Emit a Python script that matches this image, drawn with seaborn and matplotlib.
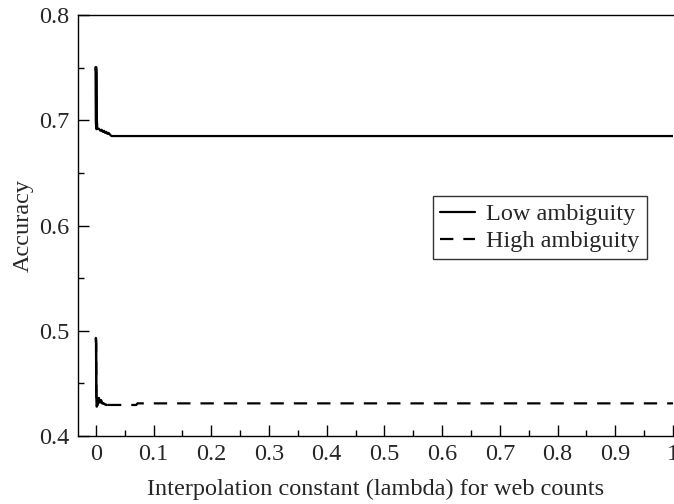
import matplotlib
matplotlib.use("Agg")
import matplotlib.pyplot as plt
import seaborn as sns
import pandas as pd

# Accuracy vs. interpolation constant
low_lambda = [0.0, 0.0004, 0.0008, 0.0015, 0.005, 0.008, 0.010, 0.012, 0.014,
              0.016, 0.018, 0.020, 0.022, 0.025, 0.027, 0.1, 0.5, 1.0]
low_acc = [0.750, 0.745, 0.700, 0.692, 0.692, 0.690, 0.691, 0.689, 0.690,
           0.688, 0.689, 0.687, 0.688, 0.686, 0.685, 0.685, 0.685, 0.685]

high_lambda = [0.0, 0.0004, 0.0008, 0.0015, 0.003, 0.005, 0.007, 0.009, 0.011,
               0.013, 0.016, 0.019, 0.070, 0.072, 0.5, 1.0]
high_acc = [0.493, 0.488, 0.440, 0.428, 0.430, 0.436, 0.432, 0.434, 0.431,
            0.431, 0.430, 0.4295, 0.4295, 0.431, 0.431, 0.431]

x_ticks = [0, 0.1, 0.2, 0.3, 0.4, 0.5, 0.6, 0.7, 0.8, 0.9, 1.0]
x_tick_labels = ["0", "0.1", "0.2", "0.3", "0.4", "0.5", "0.6", "0.7", "0.8", "0.9", "1"]
y_ticks = [0.4, 0.5, 0.6, 0.7, 0.8]
y_tick_labels = ["0.4", "0.5", "0.6", "0.7", "0.8"]

sns.set_theme(style="ticks")
plt.rcParams['font.family'] = 'serif'
plt.rcParams['font.serif'] = ['Liberation Serif', 'Times New Roman', 'DejaVu Serif']
plt.rcParams['font.size'] = 17.5

fig = plt.figure(figsize=(6.74, 5.04), dpi=100)
ax = fig.add_axes([78 / 674, 1 - 436 / 504, (673 - 78) / 674, (436 - 15) / 504])

low = pd.DataFrame({"lambda": low_lambda, "acc": low_acc})
high = pd.DataFrame({"lambda": high_lambda, "acc": high_acc})

sns.lineplot(data=low, x="lambda", y="acc", color="black", lw=1.6,
             sort=False, ax=ax, label="Low ambiguity")
sns.lineplot(data=high, x="lambda", y="acc", color="black", lw=1.6,
             linestyle=(0, (6, 4.5)), sort=False, ax=ax, label="High ambiguity")
# the dense start of both series looks solid and heavy in the original
head_low = low[low["lambda"] <= 0.002]
head_high = high[high["lambda"] <= 0.019]
ax.plot(head_low["lambda"], head_low["acc"], color="black", lw=2.4)
ax.plot(head_high["lambda"], head_high["acc"], color="black", lw=1.8)

ax.set_xlim(-0.031, 1.0)
ax.set_ylim(0.4, 0.8)
ax.set_xticks(x_ticks)
ax.set_xticklabels(x_tick_labels)
ax.set_yticks(y_ticks)
ax.set_yticklabels(y_tick_labels)
ax.set_xticks([t + 0.05 for t in x_ticks[:-1]], minor=True)
ax.set_yticks([t + 0.05 for t in y_ticks[:-1]], minor=True)
ax.tick_params(which="major", direction="in", length=8, width=1, color="black",
               labelsize=17.5, pad=6)
ax.tick_params(which="minor", direction="in", length=4, width=1, color="black")

for side in ["left", "bottom", "top"]:
    ax.spines[side].set_color("black")
    ax.spines[side].set_linewidth(1)
ax.spines["right"].set_visible(False)

ax.set_xlabel("Interpolation constant (lambda) for web counts", fontsize=17.5, labelpad=10)
ax.set_ylabel("Accuracy", fontsize=17.5, labelpad=4)

leg = ax.legend(loc="upper right", bbox_to_anchor=(647 / 674, 1 - 196 / 504),
                bbox_transform=fig.transFigure, frameon=True, fancybox=False,
                edgecolor="black", fontsize=17.5, handlelength=1.45,
                handletextpad=0.45, borderpad=0.3, labelspacing=0.2,
                borderaxespad=0)
leg.get_frame().set_linewidth(1)

fig.savefig("out.png", dpi=100)
